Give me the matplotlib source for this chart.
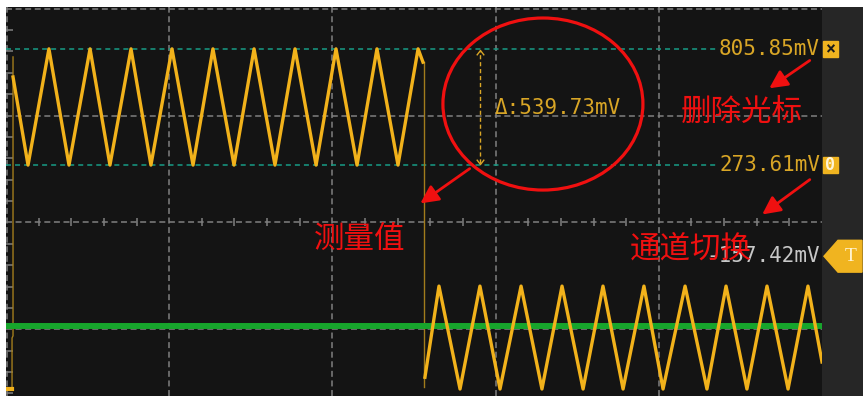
import numpy as np
import matplotlib.pyplot as plt
from matplotlib.patches import Ellipse, Rectangle, Polygon
from matplotlib.path import Path

plt.rcParams['lines.scale_dashes'] = False
plt.rcParams['font.family'] = ['DejaVu Sans Mono']

# time in divisions, voltage in mV
ch1_t = [0.043, 0.135, 0.263, 0.386, 0.515, 0.637, 0.766, 0.888, 1.017, 1.146, 1.268,
         1.397, 1.520, 1.648, 1.771, 1.900, 2.022, 2.151, 2.273, 2.402, 2.525, 2.555]
ch1_v = [677, 273, 806, 273, 806, 273, 806, 273, 806, 273, 806,
         273, 806, 273, 806, 273, 806, 273, 806, 273, 806, 745]

ch2_t = [2.567, 2.653, 2.782, 2.904, 3.027, 3.156, 3.284, 3.407, 3.536, 3.658, 3.781,
         3.909, 4.026, 4.161, 4.295, 4.412, 4.540, 4.663, 4.792, 4.914, 5.0]
ch2_v = [-700, -282, -754, -282, -754, -282, -754, -282, -754, -282, -754,
         -282, -754, -282, -754, -282, -754, -282, -754, -282, -630]

# dim vertical sweeps of the trace
jump_t = [2.561, 2.561]
jump_v = [745, -745]
edge_t = [0.043, 0.043, 0.037, 0.037]
edge_v = [769, -510, -520, -750]
blob_t = [0.006, 0.037]
blob_v = [-752, -752]

ch3_level = -465
cursor_a = 805.85
cursor_b = 273.61
trig_level = -145
grid_v = [-480, 10, 500, 990]
grid_t = [1, 2, 3, 4]

yellow = '#f2b21b'
dim = '#a27c1c'
gold_txt = '#d9a626'
gray = '#808080'
teal = '#179c86'
red = '#f01010'

fig = plt.figure(figsize=(8.63, 3.96), dpi=100, facecolor='white')
ax = fig.add_axes([6 / 863, 0, 816 / 863, 389 / 396])
ax.set_facecolor('#141414')
ax.set_xlim(0, 5)
ax.set_ylim(-786, 998)
ax.set_xticks([])
ax.set_yticks([])
for s in ax.spines.values():
    s.set_visible(False)
ax.set_zorder(2)

panel = fig.add_axes([822 / 863, 0, 41 / 863, 389 / 396])
panel.set_facecolor('#262626')
panel.set_xticks([])
panel.set_yticks([])
for s in panel.spines.values():
    s.set_visible(False)
panel.set_zorder(1)

# graticule
for v in grid_v:
    ax.axhline(v, color=gray, lw=1.1, ls=(0, (4.3, 2.6)), zorder=1)
for t in grid_t:
    ax.axvline(t, color=gray, lw=1.1, ls=(0, (4.3, 2.6)), zorder=1)
ax.axvline(0.006, color=gray, lw=1.1, ls=(0, (4.3, 2.6)), zorder=1)
minor_t = [k * 0.2 for k in range(1, 25) if k % 5 != 0]
ax.plot(minor_t, [10] * len(minor_t), ls='none', marker='|', ms=6, mew=1.1, color=gray, zorder=1)
minor_v = [10 + 98 * k for k in range(-8, 10) if k % 5 != 0]
ax.plot([0.006] * len(minor_v), minor_v, ls='none', marker='_', ms=9, mew=1.1, color=gray, zorder=1)

# cursors
for cv in (cursor_a, cursor_b):
    ax.plot([0, 4.35], [cv, cv], color=teal, lw=1.1, ls=(0, (3.6, 2.9)), zorder=2)

# traces
ax.axhline(ch3_level, color='#17a52c', lw=4.3, zorder=4)
ax.plot(edge_t, edge_v, color=dim, lw=1.0, zorder=3)
ax.plot(blob_t, blob_v, color=yellow, lw=3, zorder=3)
ax.plot(jump_t, jump_v, color=dim, lw=1.0, zorder=3)
ax.plot(ch1_t, ch1_v, color=yellow, lw=2.4, solid_joinstyle='round', zorder=5)
ax.plot(ch2_t, ch2_v, color=yellow, lw=2.4, solid_joinstyle='round', zorder=5)

# delta arrow
ax.plot([2.904, 2.904], [cursor_b + 8, cursor_a - 8], color=gold_txt, lw=1.0, ls=(0, (3, 2)), zorder=6)
chev_up = Path([(-1, -1.3), (0, 0), (1, -1.3)], [Path.MOVETO, Path.LINETO, Path.LINETO])
chev_dn = Path([(-1, 1.3), (0, 0), (1, 1.3)], [Path.MOVETO, Path.LINETO, Path.LINETO])
ax.plot([2.904], [cursor_a - 6], marker=chev_up, ms=7, mfc='none', mec=gold_txt, mew=1.0, zorder=6)
ax.plot([2.904], [cursor_b + 6], marker=chev_dn, ms=7, mfc='none', mec=gold_txt, mew=1.0, zorder=6)
ax.text(2.996, 535, '\u0394:539.73mV', color=gold_txt, fontsize=15, ha='left', va='center', zorder=6)

# right labels
ax.text(4.988, cursor_a, '805.85mV', color=gold_txt, fontsize=15, ha='right', va='center', zorder=6)
ax.text(4.988, cursor_b, '273.61mV', color=gold_txt, fontsize=15, ha='right', va='center', zorder=6)
ax.text(4.988, trig_level, '-157.42mV', color='#c8c8c8', fontsize=15, ha='right', va='center', zorder=6)

for cv, sym, c in ((cursor_a, '\u00d7', '#1a1a1a'), (cursor_b, '0', '#fff4d8')):
    ax.add_patch(Rectangle((5.006, cv - 36), 0.092, 72, color='#f0b420', clip_on=False, zorder=7))
    ax.text(5.052, cv, sym, color=c, fontsize=12, ha='center', va='center',
            fontweight='bold', clip_on=False, zorder=8)

ax.add_patch(Polygon([(5.012, trig_level), (5.098, trig_level + 73), (5.245, trig_level + 73),
                      (5.245, trig_level - 73), (5.098, trig_level - 73)],
                     closed=True, color='#f0b420', clip_on=False, zorder=7))
ax.text(5.178, trig_level, 'T', color='#fff3d0', fontsize=14, family='Liberation Serif',
        ha='center', va='center', clip_on=False, zorder=8)

# red annotations
ax.add_patch(Ellipse((3.290, 553), 1.2255, 789, fill=False, ec=red, lw=2.3, zorder=9))
arr = dict(arrowstyle='-|>,head_length=0.6,head_width=0.3', color=red, lw=2.0, mutation_scale=18)
ax.annotate('', xy=(2.525, 90), xytext=(2.855, 264), arrowprops=arr, zorder=9)
ax.annotate('', xy=(4.663, 618), xytext=(4.939, 760), arrowprops=arr, zorder=9)
ax.annotate('', xy=(4.620, 39), xytext=(4.939, 214), arrowprops=arr, zorder=9)

cjk = ['Noto Sans CJK SC', 'DejaVu Sans']
ax.text(2.169, -66, '测量值', color=red, fontsize=22, family=cjk, ha='center', va='center', zorder=10)
ax.text(4.510, 516, '删除光标', color=red, fontsize=22, family=cjk, ha='center', va='center', zorder=10)
ax.text(4.197, -112, '通道切换', color=red, fontsize=22, family=cjk, ha='center', va='center', zorder=10)

fig.savefig('out.png', dpi=100)
